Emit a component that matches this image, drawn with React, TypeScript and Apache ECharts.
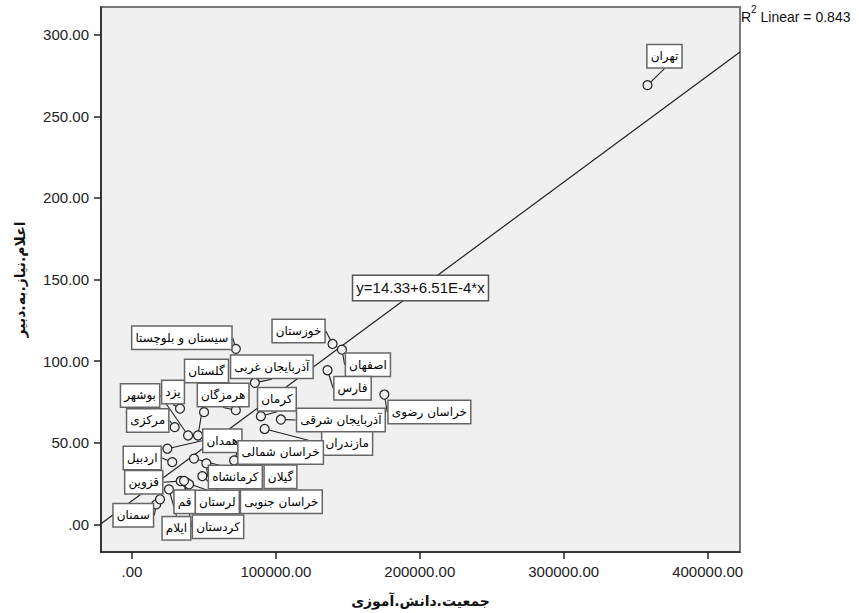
import React, { useEffect, useRef } from 'react';
import * as echarts from 'echarts';

// ---- data ----
const provinces: string[] = [
  'تهران', 'خوزستان', 'اصفهان', 'فارس', 'خراسان رضوی', 'سیستان و بلوچستا',
  'آذربایجان غربی', 'گلستان', 'هرمزگان', 'یزد', 'بوشهر', 'مرکزی', 'کرمان',
  'آذربایجان شرقی', 'مازندران', 'همدان', 'خراسان شمالی', 'اردبیل', 'کرمانشاه',
  'گیلان', 'قزوین', 'لرستان', 'خراسان جنوبی', 'قم', 'کردستان', 'ایلام', 'سمنان',
  '', '',
];
const students: number[] = [
  358200, 139400, 145900, 135900, 175400, 72200,
  85400, 45900, 72200, 33400, 39000, 29700, 89600,
  103500, 92200, 24600, 71000, 28000, 51700,
  43100, 33900, 48900, 37800, 39700, 36200, 25700, 16900,
  50100, 19500,
];
const teacherNeed: number[] = [
  269.1, 110.5, 107.0, 94.4, 79.5, 107.5,
  86.7, 54.4, 69.9, 70.9, 54.4, 59.5, 66.2,
  64.2, 58.4, 46.3, 39.1, 38.1, 37.3,
  40.2, 26.5, 29.5, 25.5, 24.5, 26.6, 21.4, 12.2,
  68.7, 15.3,
];
const xTicks: number[] = [0, 100000, 200000, 300000, 400000];
const yTicks: number[] = [0, 50, 100, 150, 200, 250, 300];
const xRange: number[] = [-21500, 422500];
const yRange: number[] = [-17, 317];
const intercept = 14.33;
const slope = 6.51e-4;
const r2Text = '0.843';
const xName = 'جمعیت.دانش.آموزی';
const yName = 'اعلام.نیاز.به.دبیر';

// label displacement (layout style, pixels) for each point's label box
const labelOffsets: number[][] = [
  [17, -29], [-34, -13], [26, 15], [25, 18], [45, 17.5], [-54, -11],
  [17, -16], [8.5, -64.5], [-12.7, -15.2], [-7, -16.5], [-48, -40], [-27, -6.7], [16, -17],
  [60, 0.5], [82.5, 14.5], [55, -8], [46.5, -8], [-30, -4], [29, 13.5],
  [86.5, 18], [-37, 1.3], [15, 26], [95, 19], [-4.5, 17.5], [34, 46], [7.5, 39], [-23, 11],
  [0, 0], [0, 0],
];

const fmt = (v: number) => (v === 0 ? '.00' : v.toFixed(2));

export default function App() {
  const ref = useRef<HTMLDivElement>(null);
  useEffect(() => {
    document.body.style.margin = '0';
    const chart = echarts.init(ref.current!, null, { renderer: 'svg' });
    const fitData = xRange.map((x) => [x, intercept + slope * x]);
    const tickFont = 'Liberation Sans';
    chart.setOption({
      animation: false,
      backgroundColor: '#ffffff',
      grid: {
        left: 101, right: 119, top: 7, bottom: 60, show: true,
        backgroundColor: '#f0f0f0', borderColor: '#7a7a7a', borderWidth: 2,
      },
      xAxis: {
        type: 'value', min: xRange[0], max: xRange[1],
        axisLine: { show: true, onZero: false, lineStyle: { color: '#222', width: 1.5 } },
        axisTick: { show: true, length: 7, customValues: xTicks, lineStyle: { color: '#222', width: 1.5 } },
        axisLabel: { customValues: xTicks, formatter: fmt, margin: 12, fontSize: 15, fontFamily: tickFont, color: '#222' },
        splitLine: { show: false },
        name: xName, nameLocation: 'middle', nameGap: 42,
        nameTextStyle: { fontFamily: 'DejaVu Sans', fontWeight: 'bold', fontSize: 14, color: '#111' },
      },
      yAxis: {
        type: 'value', min: yRange[0], max: yRange[1],
        axisLine: { show: true, onZero: false, lineStyle: { color: '#222', width: 1.5 } },
        axisTick: { show: true, length: 7, customValues: yTicks, lineStyle: { color: '#222', width: 1.5 } },
        axisLabel: { customValues: yTicks, formatter: fmt, margin: 12, fontSize: 15, fontFamily: tickFont, color: '#222' },
        splitLine: { show: false },
        name: yName, nameLocation: 'middle', nameGap: 74,
        nameTextStyle: { fontFamily: 'DejaVu Sans', fontWeight: 'bold', fontSize: 14, color: '#111' },
      },
      series: [
        {
          type: 'line', data: fitData, showSymbol: false, silent: true, z: 2,
          lineStyle: { color: '#222', width: 1.2 },
        },
        {
          type: 'scatter', z: 3, symbol: 'circle', symbolSize: 9,
          itemStyle: { color: '#f0f0f0', borderColor: '#222', borderWidth: 1.2, opacity: 1 },
          data: provinces.map((n, i) => ({
            name: n, value: [students[i], teacherNeed[i]],
            label: { show: n !== '' },
          })),
          label: {
            show: true, position: 'inside', formatter: '{b}',
            fontFamily: 'DejaVu Sans', fontSize: 12, color: '#000', lineHeight: 15,
            backgroundColor: '#ffffff', borderColor: '#666', borderWidth: 1.5,
            padding: [4, 3, 3, 3],
          },
          labelLine: { show: true, lineStyle: { color: '#222', width: 1.1 } },
          labelLayout: (p: any) => {
            const o = labelOffsets[p.dataIndex] || [0, 0];
            return { dx: o[0], dy: o[1] };
          },
        },
      ],
    });
    const mid = (xRange[0] + xRange[1]) / 2;
    const pt = chart.convertToPixel({ gridIndex: 0 }, [mid, intercept + slope * mid]) as number[];
    chart.setOption({
      graphic: [
        {
          type: 'text', x: pt[0], y: pt[1], z: 10,
          style: {
            text: `y=${intercept.toFixed(2)}+${(slope * 1e4).toFixed(2)}E-4*x`,
            font: `15px "${tickFont}"`, fill: '#111', align: 'center', verticalAlign: 'middle',
            backgroundColor: '#ffffff', borderColor: '#555', borderWidth: 1.5, padding: [5, 3, 4, 3],
          },
        },
        {
          type: 'text', left: 741, top: 4, z: 10,
          style: {
            text: `{a|R}{s|2}{a| Linear = ${r2Text}}`,
            rich: {
              a: { fontSize: 14, fontFamily: tickFont, fill: '#111', lineHeight: 20, verticalAlign: 'bottom' },
              s: { fontSize: 10, fontFamily: tickFont, fill: '#111', lineHeight: 20, verticalAlign: 'top' },
            },
          },
        },
      ],
    });
    return () => chart.dispose();
  }, []);
  return (
    <div
      ref={ref}
      style={{ position: 'fixed', left: 0, top: 0, width: 859, height: 613, background: '#fff' }}
    />
  );
}
